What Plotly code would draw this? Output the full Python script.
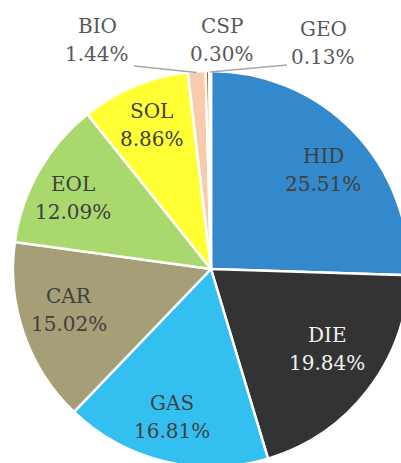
import math
import plotly.graph_objects as go

# ---- data ----
labels = ["HID", "DIE", "GAS", "CAR", "EOL", "SOL", "BIO", "CSP", "GEO"]
values = [25.51, 19.84, 16.81, 15.02, 12.09, 8.86, 1.44, 0.30, 0.13]
pct_text = ["25.51%", "19.84%", "16.81%", "15.02%", "12.09%", "8.86%", "1.44%", "0.30%", "0.13%"]

# ---- styles ----
colors = ["#3389CB", "#333333", "#33C0F1", "#A69E76", "#A9D86E",
          "#FFFF33", "#F8CBAD", "#C55A11", "#7F7F7F"]
text_colors = ["#404040", "#F2F2F2", "#404040", "#404040", "#404040",
               "#404040", "#595959", "#595959", "#595959"]
# inside-label nudges (px) relative to the mid-angle anchor
nudge = {"HID": (4, 6), "DIE": (-3, -12), "GAS": (-4, 2), "CAR": (0, -8),
         "EOL": (-7, 3), "SOL": (-1, -5)}
# outside labels: label centre (px) and leader-line end (px)
outside = {"BIO": (97, 40, 134, 66), "CSP": (222, 40, None, None), "GEO": (323, 43, 287, 65)}

W, H = 420, 470
CX, CY, R = 211, 269, 198
FONT = "DejaVu Serif"
FS = 20
HALF_GAP = 14

def px2paper(x, y):
    return x / W, 1 - y / H

fig = go.Figure(go.Pie(
    labels=labels, values=values, sort=False, direction="clockwise", rotation=0,
    marker=dict(colors=colors, line=dict(color="white", width=2.5)),
    textinfo="none", hoverinfo="label+percent", showlegend=False,
    domain=dict(x=[(CX - R) / W, (CX + R) / W], y=[1 - (CY + R) / H, 1 - (CY - R) / H]),
))

annotations = []
shapes = []

def add_label(x, y, lab, t, tc):
    for txt, yy in ((lab, y - HALF_GAP), (t, y + HALF_GAP)):
        ax, ay = px2paper(x, yy)
        annotations.append(dict(x=ax, y=ay, xref="paper", yref="paper", showarrow=False,
                                text=txt, font=dict(family=FONT, size=FS, color=tc),
                                xanchor="center", yanchor="middle"))

total = sum(values)
cum = 0.0
for lab, v, t, tc in zip(labels, values, pct_text, text_colors):
    mid = (cum + v / 2) / total
    cum += v
    th = 2 * math.pi * mid
    if lab in outside:
        lx, ly, ex, ey = outside[lab]
        add_label(lx, ly, lab, t, tc)
        if ex is not None:
            sx, sy = CX + R * math.sin(th), CY - R * math.cos(th) + 1
            x0, y0 = px2paper(sx, sy)
            x1, y1 = px2paper(ex, ey)
            shapes.append(dict(type="line", xref="paper", yref="paper", x0=x0, y0=y0, x1=x1, y1=y1,
                               line=dict(color="#A6A6A6", width=1.5)))
    else:
        r = 0.76 * R
        dx, dy = nudge.get(lab, (0, 0))
        add_label(CX + r * math.sin(th) + dx, CY - r * math.cos(th) + dy, lab, t, tc)

fig.update_layout(
    width=W, height=H, autosize=False,
    margin=dict(l=0, r=0, t=0, b=0),
    paper_bgcolor="white", plot_bgcolor="white",
    annotations=annotations, shapes=shapes,
)

fig.write_html("out.html", config={"displayModeBar": False},
               post_script="document.body.style.margin='0';document.body.style.overflow='hidden';document.documentElement.style.overflow='hidden';")
